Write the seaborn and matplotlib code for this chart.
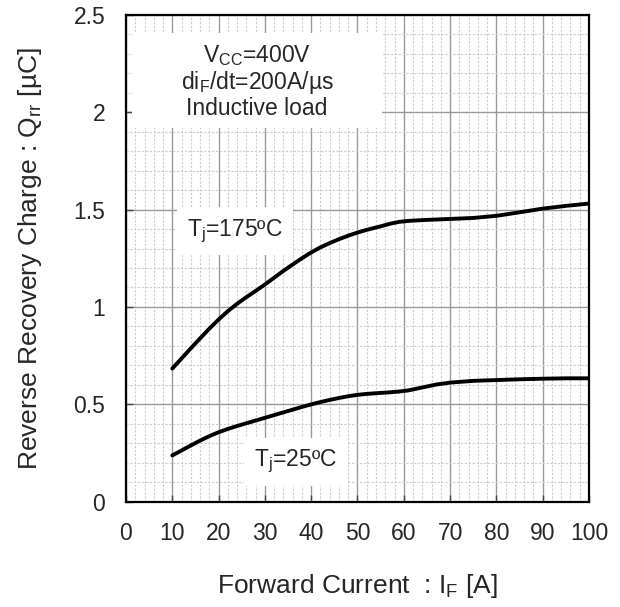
import numpy as np
import pandas as pd
import matplotlib
matplotlib.use("Agg")
import matplotlib.pyplot as plt
from matplotlib.patches import Rectangle
from matplotlib.ticker import MultipleLocator
import seaborn as sns

# values
current = [10, 12, 14, 16, 18, 20, 22, 24, 26, 28, 30, 32, 34, 36, 38, 40, 42, 44,
           46, 48, 50, 52, 55, 57, 59, 61, 64, 67, 70, 75, 80, 85, 90, 95, 100]
qrr_175 = [0.683, 0.735, 0.787, 0.838, 0.888, 0.935, 0.978, 1.016, 1.05, 1.082,
           1.115, 1.15, 1.185, 1.218, 1.25, 1.28, 1.306, 1.328, 1.348, 1.366,
           1.382, 1.396, 1.414, 1.427, 1.437, 1.442, 1.446, 1.449, 1.452, 1.457,
           1.468, 1.486, 1.505, 1.519, 1.531]
qrr_25 = [0.237, 0.262, 0.288, 0.313, 0.336, 0.356, 0.373, 0.388, 0.402, 0.416,
          0.43, 0.444, 0.458, 0.472, 0.486, 0.499, 0.511, 0.522, 0.532, 0.541,
          0.548, 0.553, 0.558, 0.561, 0.565, 0.571, 0.586, 0.601, 0.611, 0.62,
          0.624, 0.628, 0.631, 0.633, 0.633]
x_ticks = [0, 10, 20, 30, 40, 50, 60, 70, 80, 90, 100]
y_ticks = [0, 0.5, 1, 1.5, 2, 2.5]
y_tick_labels = ["0", "0.5", "1", "1.5", "2", "2.5"]

df = pd.DataFrame({
    "IF": current * 2,
    "Qrr": qrr_175 + qrr_25,
    "Tj": ["175"] * len(current) + ["25"] * len(current),
})

sns.set_style("ticks")
plt.rcParams["font.family"] = ["Liberation Sans", "DejaVu Sans"]
plt.rcParams["mathtext.fontset"] = "custom"
plt.rcParams["mathtext.rm"] = "Liberation Sans"

fs = 16.5
label_fs = 19

fig = plt.figure(figsize=(6.2, 6.07), dpi=100)
ax = fig.add_axes([0.2032, 0.1738, 0.7468, 0.8015])

sns.lineplot(data=df, x="IF", y="Qrr", hue="Tj", palette=["black", "black"],
             linewidth=2.8, legend=False, ax=ax, zorder=3)

ax.set_xlim(0, 100)
ax.set_ylim(0, 2.5)
ax.set_xticks(x_ticks)
ax.set_yticks(y_ticks)
ax.set_yticklabels(y_tick_labels)
ax.xaxis.set_minor_locator(MultipleLocator(2))
ax.yaxis.set_minor_locator(MultipleLocator(0.1))

ax.set_axisbelow(True)
ax.grid(which="major", color="#999999", linewidth=1.0, linestyle="-")
ax.grid(which="minor", color="#cccccc", linewidth=0.8, linestyle=(0, (2, 1.5)))

ax.tick_params(which="major", direction="in", length=5, width=1, labelsize=fs,
               color="#444444")
ax.tick_params(axis="x", pad=15)
ax.tick_params(axis="y", pad=15)
ax.tick_params(which="minor", length=0)
for s in ax.spines.values():
    s.set_linewidth(1.6)
    s.set_color("black")

# white backing for the test condition note
ax.add_patch(Rectangle((1.3, 1.92), 54, 0.49, facecolor="white",
                       edgecolor="none", zorder=1))
ax.text(28.3, 2.16, "V$_\\mathregular{CC}$=400V\n"
        "di$_\\mathregular{F}$/dt=200A/µs\nInductive load",
        ha="center", va="center", fontsize=fs, linespacing=1.05, zorder=2)

box = dict(boxstyle="square,pad=0.45", facecolor="white", edgecolor="none")
ax.text(23.5, 1.39, "T$_\\mathregular{j}$=175ºC", ha="center", va="center",
        fontsize=fs, bbox=box, zorder=2)
ax.text(36.7, 0.205, "T$_\\mathregular{j}$=25ºC", ha="center", va="center",
        fontsize=fs, bbox=box, zorder=2)

ax.set_xlabel("Forward Current  : I$_\\mathregular{F}$ [A]", fontsize=label_fs,
              labelpad=19)
ax.set_ylabel("Reverse Recovery Charge : Q$_\\mathregular{rr}$ [µC]",
              fontsize=label_fs, labelpad=21)

fig.savefig("out.png", dpi=100, facecolor="white")
